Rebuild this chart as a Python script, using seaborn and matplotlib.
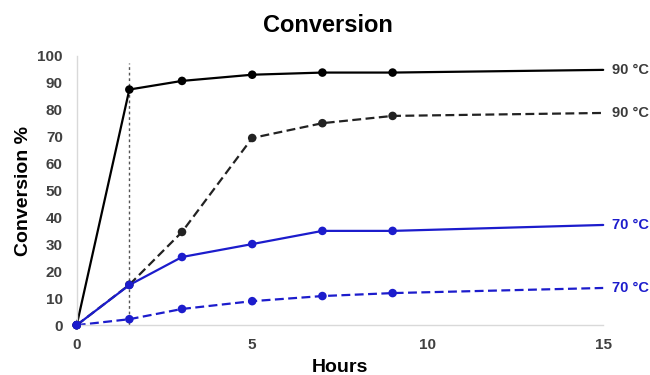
import numpy as np
import pandas as pd
import matplotlib.pyplot as plt
import seaborn as sns

sns.set_theme(style="white")
plt.rcParams['font.family'] = ['Liberation Sans', 'DejaVu Sans']

hours = [0, 1.5, 3, 5, 7, 9, 15]
black_solid = [0, 87.5, 90.7, 93, 93.8, 93.8, 94.8]
black_dashed = [0, 15, 34.6, 69.5, 75, 77.7, 78.8]
blue_solid = [0, 14.9, 25.3, 30.1, 35, 35, 37.2]
blue_dashed = [0, 2.2, 6, 8.9, 10.8, 11.9, 13.8]
labels = ['90 °C', '90 °C', '70 °C', '70 °C']
marker_line = 1.5

BLUE = '#1c1ccc'
series = [
    ('s1', black_solid, 'black', '', '#3a3a3a'),
    ('s2', black_dashed, '#222222', (4, 2), '#3a3a3a'),
    ('s3', blue_solid, BLUE, '', BLUE),
    ('s4', blue_dashed, BLUE, (4, 2), BLUE),
]

rows = []
for name, vals, _, _, _ in series:
    for h, v in zip(hours, vals):
        rows.append({'series': name, 'Hours': h, 'Conversion': v})
df = pd.DataFrame(rows)

fig = plt.figure(figsize=(6.5, 3.75), dpi=100)
ax = fig.add_axes([0.118, 0.133, 0.81, 0.718])

ax.axvline(marker_line, ymin=0, ymax=0.975, color='#555555', linestyle=(0, (2, 2)), linewidth=1)

palette = {s[0]: s[2] for s in series}
dashes = {s[0]: s[3] for s in series}
sns.lineplot(data=df, x='Hours', y='Conversion', hue='series', style='series',
             palette=palette, dashes=dashes, linewidth=1.6, legend=False, ax=ax, clip_on=False)
sns.scatterplot(data=df[df['Hours'] < 15], x='Hours', y='Conversion', hue='series',
                palette=palette, s=38, edgecolor='none', legend=False, ax=ax, clip_on=False, zorder=5)

for (name, vals, _, _, tc), lab in zip(series, labels):
    ax.text(15.25, vals[-1], lab, color=tc, fontsize=10.5, fontweight='bold', va='center', ha='left')

ax.set_xlim(0, 15)
ax.set_ylim(0, 100)
ax.set_xticks([0, 5, 10, 15])
ax.set_yticks(range(0, 101, 10))
for t in ax.get_xticklabels() + ax.get_yticklabels():
    t.set_fontweight('bold')
    t.set_color('#404040')
    t.set_fontsize(11)
ax.tick_params(axis='y', length=0, pad=10)
ax.tick_params(axis='x', length=0, pad=9)
ax.set_xlabel('Hours', fontsize=14, fontweight='bold', color='black', labelpad=5)
ax.set_ylabel('Conversion %', fontsize=14, fontweight='bold', color='black', labelpad=4)
ax.set_title('Conversion', fontsize=17, fontweight='bold', color='black', pad=17, x=0.477)

sns.despine(ax=ax)
for sp in ['left', 'bottom']:
    ax.spines[sp].set_color('#d9d9d9')
    ax.spines[sp].set_linewidth(1)

fig.savefig('out.png', dpi=100)
